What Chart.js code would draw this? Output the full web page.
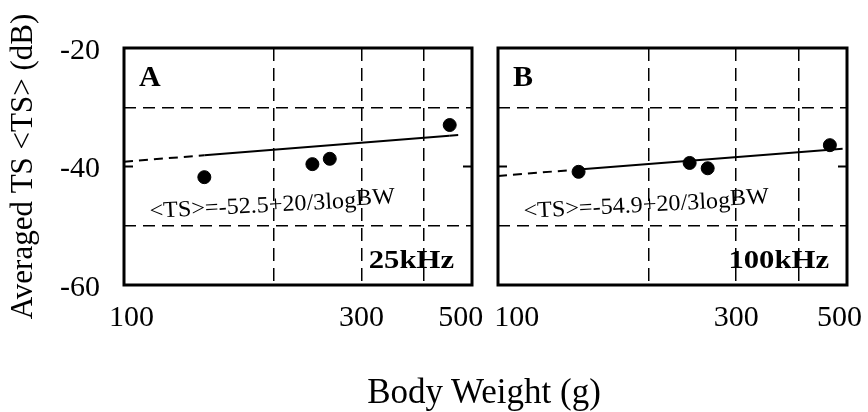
<!DOCTYPE html>
<html>
<head>
<meta charset="utf-8">
<script src="https://cdn.jsdelivr.net/npm/chart.js@4/dist/chart.umd.min.js"></script>
<style>
  html, body { margin: 0; padding: 0; background: #fff; }
  #wrap { position: relative; width: 868px; height: 412px; overflow: hidden; background: #fff; }
  #wrap canvas { position: absolute; left: 0; top: 0; }
  #xtitle { position: absolute; left: 284px; width: 400px; top: 374px; text-align: center;
            font-family: "Liberation Serif", "Times New Roman", serif; font-size: 35px; line-height: 1; color: #000; }
</style>
</head>
<body>
<div id="wrap">
  <canvas id="chartA" width="868" height="412"></canvas>
  <canvas id="chartB" width="868" height="412"></canvas>
  <div id="xtitle">Body Weight (g)</div>
</div>
<script>
// ---- data ----
const bodyWeightA = [145, 239, 259, 451];
const tsA = [-41.8, -39.6, -38.7, -33.0];
const bodyWeightB = [145, 242, 263, 462];
const tsB = [-40.9, -39.4, -40.3, -36.4];

// regression lines (at their break points)
const fitWeightA = [100, 145, 450, 482];
const fitTsA = [-39.2, -38.1, -34.8, -34.6];
const fitWeightB = [100, 145, 490];
const fitTsB = [-41.6, -40.5, -37.0];

const xTickValues = [100, 200, 300, 400, 500];
const xTickLabels = [100, 300, 500];
const xGridValues = [200, 300, 400];
const yTickValues = [-60, -50, -40, -30, -20];
const yTickLabels = [-60, -40, -20];
const yGridValues = [-50, -30];

const panelLetters = ['A', 'B'];
const panelFreqs = ['25kHz', '100kHz'];
const equations = ['<TS>=-52.5+20/3logBW', '<TS>=-54.9+20/3logBW'];
const yTitle = 'Averaged TS <TS> (dB)';

// ---- styling ----
const SERIF = '"Liberation Serif", "Times New Roman", serif';
Chart.defaults.color = '#000';
Chart.defaults.font.family = SERIF;

const fitSegmentDashed = [[true, false, true], [true, false]];
// spaces used to nudge the edge labels inward (first label, last label) per panel
const edgeLabelNudge = [[2, 3], [5, 2]];

const panelDeco = {
  id: 'panelDeco',
  afterDraw(chart, args, opts) {
    const { ctx, chartArea: a, scales } = chart;
    ctx.save();
    ctx.setLineDash([]);
    ctx.strokeStyle = '#000';
    ctx.lineWidth = 3;
    ctx.strokeRect(a.left, a.top, a.right - a.left, a.bottom - a.top);
    // inward tick marks at -40
    const y40 = scales.y.getPixelForValue(-40);
    ctx.lineWidth = 2;
    ctx.beginPath();
    ctx.moveTo(a.left, y40); ctx.lineTo(a.left + 9, y40);
    ctx.moveTo(a.right, y40); ctx.lineTo(a.right - 9, y40);
    ctx.stroke();

    ctx.fillStyle = '#000';
    ctx.textBaseline = 'alphabetic';
    // panel letter
    ctx.textAlign = 'left';
    ctx.font = 'bold 30px ' + SERIF;
    ctx.fillText(opts.letter, a.left + 15, a.top + 38);
    // frequency
    ctx.save();
    ctx.translate(a.right - 18, a.bottom - 17);
    ctx.scale(1.18, 1);
    ctx.textAlign = 'right';
    ctx.font = 'bold 26px ' + SERIF;
    ctx.fillText(opts.freq, 0, 0);
    ctx.restore();
    // equation
    ctx.save();
    ctx.translate(a.left + 26, a.top + 170);
    ctx.rotate(-3 * Math.PI / 180);
    ctx.scale(1.05, 1);
    ctx.textAlign = 'left';
    ctx.font = '23px ' + SERIF;
    const main = opts.eq.slice(0, -2);
    const tail = opts.eq.slice(-2);
    ctx.fillText(main, 0, 0);
    const w = ctx.measureText(main).width;
    ctx.fillText(tail, w, -2);
    ctx.restore();
    ctx.restore();
  }
};

function makeChart(canvasId, idx, bw, ts, fitW, fitT, pad) {
  const first = idx === 0;
  const dashed = fitSegmentDashed[idx];
  const nudge = edgeLabelNudge[idx];
  const gridColorFor = vals => c => {
    const v = c.tick ? c.tick.value : null;
    return (v !== null && vals.includes(v)) ? '#000' : 'rgba(0,0,0,0)';
  };
  return new Chart(document.getElementById(canvasId), {
    type: 'scatter',
    data: {
      datasets: [
        {
          data: fitW.map((w, i) => ({ x: w, y: fitT[i] })),
          showLine: true,
          borderColor: '#000',
          borderWidth: 2,
          pointRadius: 0,
          pointHoverRadius: 0,
          fill: false,
          tension: 0,
          segment: { borderDash: c => dashed[c.p0DataIndex] ? [9, 6] : [] }
        },
        {
          data: bw.map((w, i) => ({ x: w, y: ts[i] })),
          showLine: false,
          backgroundColor: '#000',
          borderColor: '#000',
          pointRadius: 6.5,
          pointHoverRadius: 6.5
        }
      ]
    },
    options: {
      responsive: false,
      animation: false,
      devicePixelRatio: 1,
      events: [],
      layout: { padding: pad },
      plugins: {
        legend: { display: false },
        tooltip: { enabled: false },
        panelDeco: { letter: panelLetters[idx], freq: panelFreqs[idx], eq: equations[idx] }
      },
      scales: {
        x: {
          type: 'logarithmic',
          min: 100, max: 500,
          afterBuildTicks: s => { s.ticks = xTickValues.map(v => ({ value: v })); },
          afterFit: s => { s.height = 60; s.paddingLeft = 0; s.paddingRight = 0; },
          ticks: {
            autoSkip: false, maxRotation: 0, minRotation: 0, padding: 15,
            color: '#000', font: { family: SERIF, size: 30 },
            callback: (v, i, arr) => {
              if (!xTickLabels.includes(v)) return '';
              if (i === 0) return ' '.repeat(nudge[0]) + v;
              if (i === arr.length - 1) return v + ' '.repeat(nudge[1]);
              return String(v);
            }
          },
          grid: { drawTicks: false, lineWidth: 1.5, color: gridColorFor(xGridValues) },
          border: { display: false, dash: [13, 7] }
        },
        y: {
          type: 'linear',
          min: -60, max: -20,
          afterBuildTicks: s => { s.ticks = yTickValues.map(v => ({ value: v })); },
          afterFit: s => { s.width = first ? 124 : 0; s.paddingTop = 0; s.paddingBottom = 0; },
          ticks: {
            display: first, padding: 24, labelOffset: 3,
            color: '#000', font: { family: SERIF, size: 30 },
            callback: v => yTickLabels.includes(v) ? String(v) : ''
          },
          title: {
            display: first, text: yTitle, color: '#000',
            font: { family: SERIF, size: 31 }, padding: { top: 5, bottom: 0 }
          },
          grid: { drawTicks: false, lineWidth: 1.5, color: gridColorFor(yGridValues) },
          border: { display: false, dash: [12, 7] }
        }
      }
    },
    plugins: [panelDeco]
  });
}

makeChart('chartA', 0, bodyWeightA, tsA, fitWeightA, fitTsA, { left: 0, right: 396, top: 48, bottom: 67 });
makeChart('chartB', 1, bodyWeightB, tsB, fitWeightB, fitTsB, { left: 498, right: 21, top: 48, bottom: 67 });
</script>
</body>
</html>
